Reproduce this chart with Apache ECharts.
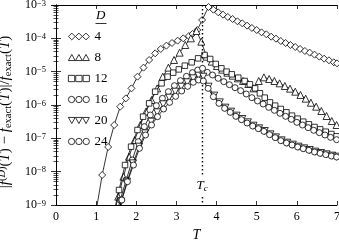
<!DOCTYPE html>
<html><head><meta charset="utf-8">
<script src="https://cdn.jsdelivr.net/npm/echarts@6/dist/echarts.min.js"></script>
<style>html,body{margin:0;padding:0;background:#fff}#c{width:339px;height:240px}</style>
</head><body><div id="c"></div>
<script>
const seriesNames = ['4', '8', '12', '16', '20', '24'];
const tD4 = [1.00,1.15,1.30,1.45,1.60,1.74,1.88,2.03,2.18,2.32,2.47,2.61,2.75,2.89,3.03,3.17,3.31,3.40,3.52,3.64,3.80,3.92,4.04,4.16,4.28,4.40,4.52,4.64,4.76,4.88,5.00,5.12,5.24,5.36,5.48,5.60,5.72,5.84,5.96,6.08,6.20,6.32,6.44,6.56,6.68,6.80,6.92,7.00];
const errD4 = [6.61e-10,7.94e-9,5.50e-8,2.51e-7,8.91e-7,1.58e-6,3.16e-6,7.08e-6,1.32e-5,2.24e-5,3.55e-5,4.79e-5,6.03e-5,7.24e-5,8.51e-5,1.00e-4,1.17e-4,1.35e-4,1.78e-4,3.55e-4,8.71e-4,7.24e-4,6.03e-4,5.13e-4,4.37e-4,3.80e-4,3.24e-4,2.82e-4,2.40e-4,2.04e-4,1.78e-4,1.51e-4,1.32e-4,1.12e-4,9.77e-5,8.32e-5,7.24e-5,6.31e-5,5.50e-5,4.79e-5,4.17e-5,3.72e-5,3.24e-5,2.82e-5,2.45e-5,2.19e-5,1.91e-5,1.78e-5];
const tD8 = [1.42,1.55,1.68,1.82,1.96,2.10,2.24,2.38,2.52,2.66,2.80,2.94,3.08,3.22,3.36,3.50,3.62,3.75,3.88,4.01,4.14,4.27,4.40,4.53,4.66,4.79,4.92,5.05,5.18,5.31,5.44,5.57,5.70,5.83,5.96,6.09,6.22,6.35,6.48,6.61,6.74,6.87,6.99];
const errD8 = [3.98e-10,1.78e-9,7.08e-9,2.82e-8,8.91e-8,2.51e-7,6.31e-7,1.41e-6,3.16e-6,7.08e-6,1.32e-5,2.24e-5,3.72e-5,6.31e-5,1.00e-4,1.66e-4,7.94e-5,2.82e-5,2.00e-5,1.48e-5,1.15e-5,9.33e-6,7.59e-6,6.31e-6,5.25e-6,4.27e-6,3.16e-6,5.25e-6,6.76e-6,6.03e-6,5.25e-6,4.47e-6,3.72e-6,3.09e-6,2.51e-6,2.00e-6,1.55e-6,1.17e-6,8.91e-7,6.61e-7,4.68e-7,3.31e-7,2.51e-7];
const tD12 = [1.43,1.57,1.72,1.87,2.03,2.17,2.32,2.47,2.63,2.78,2.92,3.06,3.21,3.38,3.54,3.70,3.84,3.98,4.12,4.25,4.38,4.54,4.70,4.83,4.96,5.08,5.20,5.33,5.46,5.60,5.74,5.88,6.02,6.16,6.30,6.44,6.58,6.72,6.86,6.99];
const errD12 = [5.01e-10,2.82e-9,1.58e-8,5.62e-8,1.78e-7,4.47e-7,1.12e-6,2.51e-6,4.47e-6,7.08e-6,9.33e-6,1.17e-5,1.51e-5,1.91e-5,2.51e-5,3.16e-5,2.40e-5,1.70e-5,1.26e-5,1.00e-5,8.32e-6,6.61e-6,5.25e-6,4.17e-6,3.16e-6,2.24e-6,1.66e-6,1.20e-6,9.55e-7,7.59e-7,6.03e-7,4.79e-7,3.89e-7,3.16e-7,2.63e-7,2.19e-7,1.86e-7,1.58e-7,1.35e-7,1.15e-7];
const tD16 = [1.45,1.60,1.75,1.90,2.05,2.20,2.35,2.50,2.65,2.80,2.95,3.10,3.25,3.40,3.53,3.65,3.77,3.90,4.04,4.18,4.32,4.46,4.60,4.74,4.88,5.02,5.16,5.30,5.44,5.58,5.72,5.86,6.00,6.14,6.28,6.42,6.56,6.70,6.84,6.99];
const errD16 = [3.16e-10,1.41e-9,5.62e-9,2.24e-8,7.94e-8,2.24e-7,5.01e-7,9.55e-7,1.58e-6,2.51e-6,3.80e-6,5.37e-6,7.24e-6,9.33e-6,1.12e-5,1.26e-5,9.55e-6,7.94e-6,6.31e-6,5.01e-6,4.07e-6,3.31e-6,2.69e-6,2.14e-6,1.66e-6,1.32e-6,1.07e-6,8.51e-7,6.92e-7,5.62e-7,4.57e-7,3.72e-7,3.02e-7,2.51e-7,2.09e-7,1.74e-7,1.48e-7,1.26e-7,1.07e-7,9.12e-8];
const tD20 = [1.47,1.62,1.77,1.92,2.07,2.22,2.37,2.52,2.67,2.82,2.97,3.12,3.27,3.42,3.55,3.67,3.80,3.94,4.08,4.22,4.36,4.50,4.64,4.78,4.92,5.06,5.20,5.34,5.48,5.62,5.76,5.90,6.04,6.18,6.32,6.46,6.60,6.74,6.88,6.99];
const errD20 = [3.16e-10,1.26e-9,5.01e-9,1.78e-8,5.62e-8,1.41e-7,3.16e-7,6.03e-7,1.05e-6,1.66e-6,2.51e-6,3.55e-6,4.79e-6,6.31e-6,7.59e-6,7.08e-6,3.55e-6,1.91e-6,1.20e-6,8.32e-7,6.31e-7,4.79e-7,3.80e-7,3.02e-7,2.40e-7,2.00e-7,1.66e-7,1.32e-7,1.07e-7,8.71e-8,7.41e-8,6.46e-8,5.62e-8,5.01e-8,4.47e-8,3.98e-8,3.63e-8,3.31e-8,3.02e-8,2.82e-8];
const tD24 = [1.50,1.64,1.78,1.93,2.08,2.23,2.38,2.53,2.68,2.83,2.98,3.13,3.28,3.42,3.55,3.67,3.79,3.92,4.06,4.20,4.34,4.48,4.62,4.76,4.90,5.04,5.18,5.32,5.46,5.60,5.74,5.88,6.02,6.16,6.30,6.44,6.58,6.72,6.86,6.99];
const errD24 = [3.55e-10,1.41e-9,5.01e-9,1.58e-8,5.01e-8,1.26e-7,2.51e-7,4.47e-7,7.59e-7,1.20e-6,1.82e-6,2.63e-6,3.63e-6,4.79e-6,5.62e-6,5.25e-6,3.16e-6,1.78e-6,1.12e-6,7.94e-7,6.03e-7,4.57e-7,3.63e-7,2.88e-7,2.34e-7,1.95e-7,1.62e-7,1.29e-7,1.05e-7,8.51e-8,7.24e-8,6.31e-8,5.50e-8,4.90e-8,4.37e-8,3.89e-8,3.55e-8,3.24e-8,2.95e-8,2.75e-8];
const criticalT = 3.641;
const tcLineTop = 1e-3, tcLineGapTop = 7.9e-9, tcLineGapBottom = 1.74e-9, tcLineBottom = 1e-9;

const FONT = 'Liberation Serif';
const tAll = [tD4, tD8, tD12, tD16, tD20, tD24];
const eAll = [errD4, errD8, errD12, errD16, errD20, errD24];
const symbols = ['diamond', 'triangle', 'rect', 'circle', 'triangle', 'circle'];
const symbolRot = [0, 0, 0, 0, 180, 0];
const symbolSizes = [[7, 7], 7, 5.5, 6, 7, 6];
const legendIcons = [
  'path://M0,10L10,0L20,10L10,20ZM21,10L31,0L41,10L31,20ZM42,10L52,0L62,10L52,20Z',
  'path://M0,20L10,2L20,20ZM21,20L31,2L41,20ZM42,20L52,2L62,20Z',
  'path://M1,1L19,1L19,19L1,19ZM22,1L40,1L40,19L22,19ZM43,1L61,1L61,19L43,19Z',
  'path://M1,10A9,9,0,1,0,19,10A9,9,0,1,0,1,10ZM22,10A9,9,0,1,0,40,10A9,9,0,1,0,22,10ZM43,10A9,9,0,1,0,61,10A9,9,0,1,0,43,10Z',
  'path://M0,0L20,0L10,18ZM21,0L41,0L31,18ZM42,0L62,0L52,18Z',
  'path://M1,10A9,9,0,1,0,19,10A9,9,0,1,0,1,10ZM22,10A9,9,0,1,0,40,10A9,9,0,1,0,22,10ZM43,10A9,9,0,1,0,61,10A9,9,0,1,0,43,10Z'
];

const series = seriesNames.map((nm, k) => {
  const s = {
    type: 'line', name: nm,
    data: tAll[k].map((t, i) => [t, eAll[k][i]]),
    symbol: symbols[k], symbolRotate: symbolRot[k], symbolSize: symbolSizes[k],
    showAllSymbol: true, clip: true,
    lineStyle: { color: '#000', width: 0.8 },
    itemStyle: { color: '#fff', borderColor: '#000', borderWidth: 0.8 },
    emphasis: { disabled: true }, z: 2 + k
  };
  if (k === 0) {
    s.markLine = {
      silent: true, symbol: ['none', 'none'], animation: false,
      lineStyle: { type: [1.4, 2.6], color: '#000', width: 1.4 },
      label: { show: false },
      data: [
        [{ coord: [criticalT, tcLineTop] },
         { coord: [criticalT, tcLineGapTop],
           label: { show: true, position: 'end', distance: 3, formatter: '{i|T}{s|c}', color: '#000',
             rich: { i: { fontFamily: FONT, fontStyle: 'italic', fontSize: 13, lineHeight: 15 },
                     s: { fontFamily: FONT, fontStyle: 'italic', fontSize: 9, verticalAlign: 'bottom', lineHeight: 11 } } } }],
        [{ coord: [criticalT, tcLineGapBottom] }, { coord: [criticalT, tcLineBottom] }]
      ]
    };
  }
  return s;
});

const axisLineStyle = { show: true, lineStyle: { color: '#000', width: 1 } };
const yLabelFmt = v => '10{s|−' + Math.round(-Math.log10(v)) + '}';
const yAxisCommon = {
  type: 'log', logBase: 10, min: 1e-9, max: 1e-3, splitNumber: 6,
  axisLine: axisLineStyle,
  axisTick: { show: true, inside: true, length: 5, lineStyle: { color: '#000', width: 0.8 } },
  minorTick: { show: true, splitNumber: 9, length: 2.5, lineStyle: { color: '#000', width: 0.7 } },
  splitLine: { show: false }, minorSplitLine: { show: false }
};
const xAxisCommon = {
  type: 'value', min: 0, max: 7, interval: 1,
  axisLine: axisLineStyle,
  axisTick: { show: true, inside: true, length: 4, lineStyle: { color: '#000', width: 0.8 } },
  splitLine: { show: false }
};

const option = {
  animation: false,
  backgroundColor: '#fff',
  grid: { left: 56, right: 2, top: 5, bottom: 35, containLabel: false, outerBoundsMode: 'none' },
  xAxis: [
    Object.assign({}, xAxisCommon, {
      position: 'bottom',
      axisLabel: { color: '#000', fontFamily: FONT, fontSize: 12, margin: 6 },
      name: 'T', nameLocation: 'middle', nameGap: 21,
      nameTextStyle: { color: '#000', fontFamily: FONT, fontStyle: 'italic', fontSize: 14 }
    }),
    Object.assign({}, xAxisCommon, { position: 'top', axisLabel: { show: false } })
  ],
  yAxis: [
    Object.assign({}, yAxisCommon, {
      position: 'left',
      axisLabel: { color: '#000', fontFamily: FONT, fontSize: 12, margin: 10, formatter: yLabelFmt,
        rich: { s: { fontFamily: FONT, fontSize: 8.5, verticalAlign: 'top', lineHeight: 9 } } },
      name: '|{i|f}{sp|(}{spi|D}{sp|)}(' + '{i|T}' + ') − ' + '{i|f}{sb|exact}(' + '{i|T}' + ')|/' + '{i|f}{sb|exact}(' + '{i|T}' + ')',
      nameLocation: 'middle', nameGap: 40, nameRotate: 90,
      nameTextStyle: { color: '#000', fontFamily: FONT, fontSize: 15, lineHeight: 17, padding: [0, 14, 0, 0],
        rich: {
          i: { fontFamily: FONT, fontStyle: 'italic', fontSize: 15, lineHeight: 17 },
          sp: { fontFamily: FONT, fontSize: 10.5, verticalAlign: 'top', lineHeight: 11 },
          spi: { fontFamily: FONT, fontStyle: 'italic', fontSize: 10.5, verticalAlign: 'top', lineHeight: 11 },
          sb: { fontFamily: FONT, fontSize: 10.5, verticalAlign: 'bottom', lineHeight: 11 }
        } }
    }),
    Object.assign({}, yAxisCommon, { position: 'right', axisLabel: { show: false } })
  ],
  legend: {
    orient: 'vertical', left: 68, top: 30, padding: 0,
    itemWidth: 21, itemHeight: 7, itemGap: 8, selectedMode: false,
    textStyle: { color: '#000', fontFamily: FONT, fontSize: 13 },
    itemStyle: { color: '#fff', borderColor: '#000', borderWidth: 0.8 },
    data: seriesNames.map((nm, k) => ({ name: nm, icon: legendIcons[k] }))
  },
  graphic: [
    { type: 'text', left: 96, top: 9, style: { text: 'D', fill: '#000', font: 'italic 13px "Liberation Serif"' } },
    { type: 'line', shape: { x1: 95.5, y1: 23.5, x2: 106.5, y2: 23.5 }, style: { stroke: '#000', lineWidth: 0.8 } }
  ],
  series: series
};
const chart = echarts.init(document.getElementById('c'), null, { renderer: 'canvas' });
chart.setOption(option);
</script></body></html>
